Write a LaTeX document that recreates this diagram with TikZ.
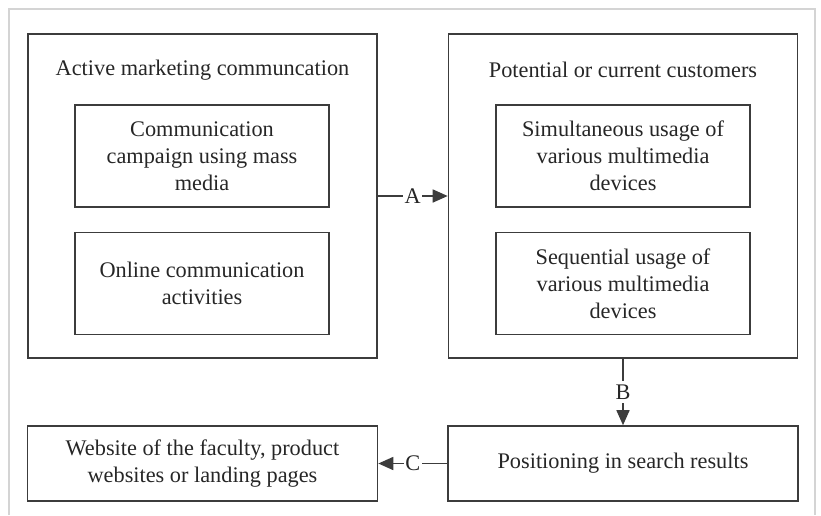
\documentclass[tikz,border=0pt]{standalone}
\usepackage{fontspec}
\setmainfont{Liberation Serif}
\usetikzlibrary{arrows.meta}
\definecolor{frame}{HTML}{D4D4D4}
\definecolor{ink}{HTML}{3C3C3C}

\begin{document}
\begin{tikzpicture}[x=1pt,y=-1pt,
  box/.style={draw=ink, line width=1.6pt, inner sep=0pt, align=center,
    text=black!85, font=\fontsize{22.3}{27}\selectfont},
  big/.style={box, minimum width=349pt, minimum height=324pt},
  small/.style={box, minimum width=254pt, minimum height=102pt},
  flat/.style={box, minimum width=350pt, minimum height=75pt},
  link/.style={draw=ink, line width=1.6pt, -{Triangle[length=15pt,width=13pt]}},
  lab/.style={fill=white, inner xsep=1.5pt, inner ysep=4pt, text=black!85, font=\fontsize{22.3}{27}\selectfont}]
\useasboundingbox (0,0) rectangle (821,515);
\draw[frame, line width=2pt] (9,515) -- (9,9) -- (815,9) -- (815,515);

\node[big] (market) at (202.5,196) {};
\node[big] (custom) at (623,196) {};
\node[box, draw=none] (markettitle) at (202.5,70) {Active marketing communcation};
\node[box, draw=none] (customtitle) at (623,70) {Potential or current customers};

\node[small] (mass) at (202,156) {Communication\\campaign using mass\\media};
\node[small] (online) at (202,283.5) {Online communication\\activities};
\node[small] (simul) at (623,156) {Simultaneous usage of\\various multimedia\\devices};
\node[small] (sequ) at (623,283.5) {Sequential usage of\\various multimedia\\devices};

\node[flat] (web) at (202.5,463.5) {Website of the faculty, product\\websites or landing pages};
\node[flat] (search) at (623,463.5) {Positioning in search results};

\draw[link] (market) -- node[lab]{A} (custom);
\draw[link] (custom) -- node[lab]{B} (search);
\draw[link] (search) -- node[lab]{C} (web);
\end{tikzpicture}
\end{document}
